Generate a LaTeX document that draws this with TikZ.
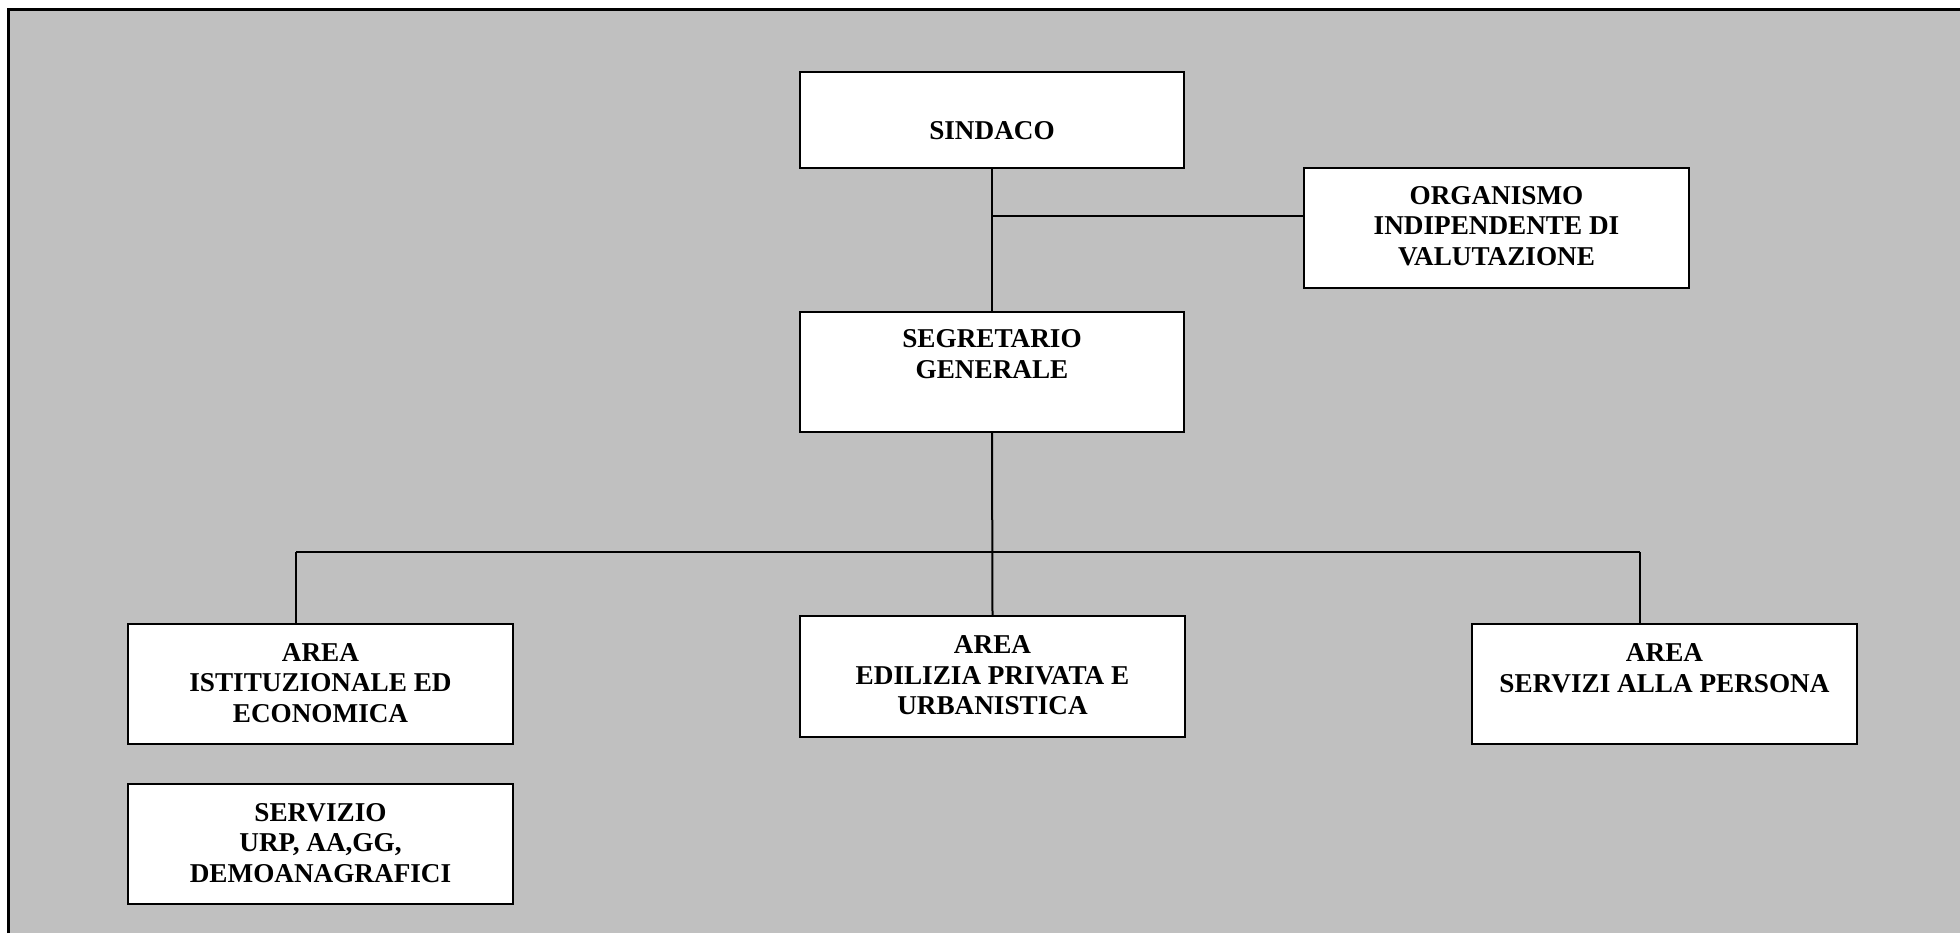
\documentclass[tikz,border=0pt]{standalone}
\usepackage{fontspec}
\setmainfont{Liberation Serif}
\begin{document}
\begin{tikzpicture}[x=0.5pt,y=-0.5pt,
  box/.style={draw=black, fill=white, line width=1pt, inner sep=0pt},
  txt/.style={font=\fontsize{13.6pt}{15.3pt}\selectfont\bfseries, align=center, inner sep=0pt, text=black},
  conn/.style={line width=1pt, draw=black}]
\useasboundingbox (0,0) rectangle (1960,933);
\fill[white] (0,0) rectangle (1960,933);
\fill[gray!50!white, fill={rgb,255:red,192;green,192;blue,192}] (9,10) rectangle (1960,933);
\draw[line width=1.2pt] (8.5,933) -- (8.5,9.5) -- (1960,9.5);
% boxes
\node[box, minimum width=192pt, minimum height=48pt] (sindaco) at (992,120) {};
\node[box, minimum width=192pt, minimum height=60pt] (segr) at (992,372) {};
\node[box, minimum width=192.5pt, minimum height=60pt] (oiv) at (1496.5,228) {};
\node[box, minimum width=192.5pt, minimum height=60pt] (ist) at (320.5,684) {};
\node[box, minimum width=192.5pt, minimum height=60pt] (serv) at (320.5,844) {};
\node[box, minimum width=192.5pt, minimum height=60.5pt] (edil) at (992.5,676.5) {};
\node[box, minimum width=192.5pt, minimum height=60pt] (pers) at (1664.5,684) {};
% texts
\node[txt] (sindacoT) at (992,131) {SINDACO};
\node[txt] (segrT) at (992,354) {SEGRETARIO\\GENERALE};
\node[txt] (oivT) at (1496.5,226) {ORGANISMO\\INDIPENDENTE DI\\VALUTAZIONE};
\node[txt] (istT) at (320.5,683) {AREA\\ISTITUZIONALE ED\\ECONOMICA};
\node[txt] (servT) at (320.5,843) {SERVIZIO\\URP, AA,GG,\\DEMOANAGRAFICI};
\node[txt] (edilT) at (992.5,675.5) {AREA\\EDILIZIA PRIVATA E\\URBANISTICA};
\node[txt] (persT) at (1664.5,668.5) {AREA\\SERVIZI ALLA PERSONA};
% connectors
\coordinate (j1) at (992,216);
\coordinate (busL) at (296,552);
\coordinate (busR) at (1640,552);
\draw[conn] (sindaco.south) -- (segr.north);
\draw[conn] (j1) -- (j1 -| oiv.west);
\draw[conn] (segr.south) -- (edil.north);
\draw[conn] (busL) -- (busR);
\draw[conn] (busL) -- (busL |- ist.north);
\draw[conn] (busR) -- (busR |- pers.north);
\end{tikzpicture}
\end{document}
